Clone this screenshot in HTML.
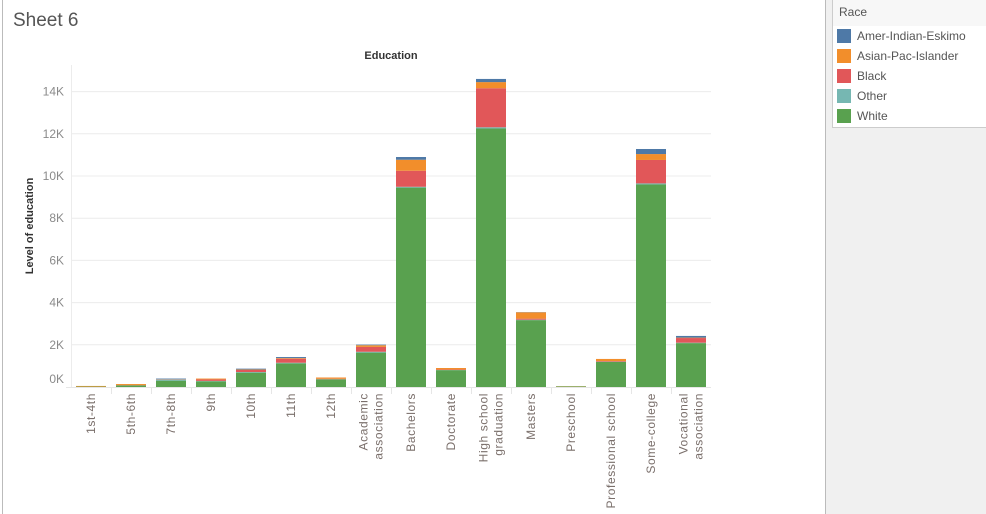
<!DOCTYPE html>
<html><head><meta charset="utf-8"><style>
body{margin:0;width:986px;height:514px;background:#fff;font-family:"Liberation Sans",sans-serif;overflow:hidden;position:relative}
</style></head><body>
<div style="position:absolute;left:2px;top:0;width:1px;height:514px;background:#bbb"></div>
<div style="position:absolute;left:13px;top:10px;font-size:19px;color:#555">Sheet 6</div>
<div style="position:absolute;left:825px;top:0;width:161px;height:514px;background:#f0f0f0;border-left:1px solid #bbb"></div>
<div style="position:absolute;left:832px;top:0;width:153px;height:127px;background:#fff;border:1px solid #ccc;border-top:none">
  <div style="height:26px;background:#f7f7f7;font-size:12px;color:#555;padding:5px 0 0 6px;box-sizing:border-box">Race</div>
  <div id="legend-items"></div>
</div>
<svg id="chart" width="825" height="514" style="position:absolute;left:0;top:0"></svg>
<script>
const categories=["1st-4th","5th-6th","7th-8th","9th","10th","11th","12th","Academic\nassociation","Bachelors","Doctorate","High school\ngraduation","Masters","Preschool","Professional school","Some-college","Vocational\nassociation"];
const races=["White","Other","Black","Asian-Pac-Islander","Amer-Indian-Eskimo"];
const colors=["#59a14f","#76b7b2","#e15759","#f28e2b","#4e79a7"];
const white=[0.02,0.08,0.30,0.27,0.68,1.12,0.36,1.63,9.45,0.80,12.25,3.17,0.03,1.19,9.60,2.08];
const other=[0.00,0.00,0.05,0.02,0.03,0.03,0.01,0.04,0.04,0.01,0.06,0.02,0.00,0.01,0.05,0.02];
const black=[0.00,0.01,0.01,0.07,0.10,0.19,0.02,0.23,0.76,0.02,1.85,0.05,0.00,0.03,1.11,0.22];
const asian=[0.03,0.05,0.01,0.04,0.02,0.03,0.06,0.08,0.52,0.07,0.29,0.30,0.01,0.10,0.28,0.02];
const amer=[0.00,0.00,0.03,0.00,0.04,0.05,0.00,0.03,0.13,0.00,0.15,0.01,0.00,0.00,0.24,0.08];
const yTicks=[0,2,4,6,8,10,12,14];
const series=[white,other,black,asian,amer];
const NS="http://www.w3.org/2000/svg";
const svg=document.getElementById('chart');
const y0=387,pxPerK=21.1,x0=71,step=40,barW=30;
const yScale=v=>y0-v*pxPerK;
const xCenter=i=>x0+20+i*step;
function mk(t,a){const e=document.createElementNS(NS,t);for(const k in a)e.setAttribute(k,a[k]);svg.appendChild(e);return e;}
yTicks.forEach(t=>{
  if(t>0){const g=mk('line',{x1:x0,x2:711,y1:yScale(t),y2:yScale(t),stroke:'#ececec','stroke-width':1});
  
  }
  const l=mk('text',{x:64,y:t===0?yScale(t)-4:yScale(t)+4,'text-anchor':'end','font-size':12,fill:'#8a8a8a'});
  l.textContent=t+'K';
  
  
});
const ax=mk('line',{x1:x0+0.5,x2:x0+0.5,y1:65,y2:387,stroke:'#ececec'});


const bx=mk('line',{x1:66,x2:711,y1:387.5,y2:387.5,stroke:'#e6e6e6'});


const yt=mk('text',{x:0,y:0,transform:'translate(33,226) rotate(-90)','text-anchor':'middle','font-size':11,'font-weight':'bold',fill:'#333'});
yt.textContent='Level of education';


const ct=mk('text',{x:391,y:59,'text-anchor':'middle','font-size':11,'font-weight':'bold',fill:'#333'});
ct.textContent='Education';


categories.forEach((c,i)=>{
  let acc=0;
  series.forEach((s,j)=>{
    const v=s[i];if(v<=0)return;
    const r=mk('rect',{x:xCenter(i)-barW/2,y:yScale(acc+v),width:barW,height:v*pxPerK,fill:colors[j]});
    
    
    acc+=v;
  });
  if(i>0){const tk=mk('line',{x1:x0+i*step+0.5,x2:x0+i*step+0.5,y1:388,y2:394,stroke:'#e6e6e6'});
  
  }
  const lines=c.split('\n');
  lines.forEach((ln,k)=>{
    const off=(k-(lines.length-1)/2)*15;
    const t=mk('text',{x:0,y:0,transform:`translate(${xCenter(i)+off+4},393) rotate(-90)`,'text-anchor':'end','font-size':12,fill:'#7a6f6b','letter-spacing':'0.6'});
    t.textContent=ln;
    
    
  });
});
const leg=document.getElementById('legend-items');
const order=[4,3,2,1,0];
order.forEach(j=>{
  const d=document.createElement('div');
  
  
  d.style.cssText='height:20px;display:flex;align-items:center;font-size:12px;color:#555;';
  d.innerHTML=`<span style="display:inline-block;width:14px;height:14px;background:${colors[j]};margin:0 6px 0 4px"></span>${races[j]}`;
  leg.appendChild(d);
});
</script>
</body></html>
